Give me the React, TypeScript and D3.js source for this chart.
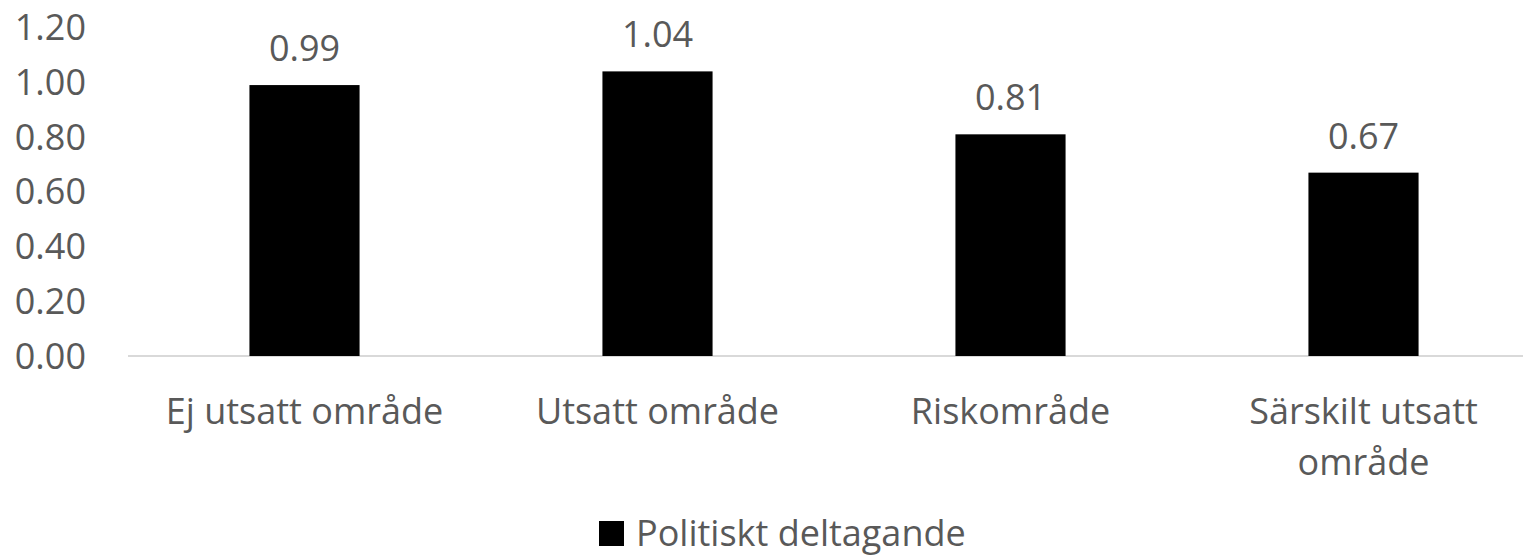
import * as d3 from 'd3'
import { useEffect, useRef } from 'react'

const categories = ['Ej utsatt område', 'Utsatt område', 'Riskområde', 'Särskilt utsatt område']
const categoryLines = [['Ej utsatt område'], ['Utsatt område'], ['Riskområde'], ['Särskilt utsatt', 'område']]
const values = [0.99, 1.04, 0.81, 0.67]
const yTicks = [0, 0.2, 0.4, 0.6, 0.8, 1.0, 1.2]
const seriesName = 'Politiskt deltagande'

export default function App() {
    const svgRef = useRef<SVGSVGElement>(null)

    useEffect(() => {
        makeChart(svgRef)
    }, [])

    function makeChart(svgRef: React.RefObject<SVGSVGElement>) {
        const width = 1523
        const height = 558
        const font = '"Open Sans", sans-serif'
        const textColor = '#595959'

        const svg = d3.select(svgRef.current).attr('width', width).attr('height', height)
        svg.selectAll('*').remove()

        const xScale = d3.scaleBand().domain(categories).range([128, 1540]).padding(0)
        const yScale = d3.scaleLinear().domain([0, 1.2]).range([356, 27.6])
        const barWidth = xScale.bandwidth() * 0.312

        // baseline
        svg.append('line')
            .attr('x1', 128).attr('x2', width)
            .attr('y1', yScale(0)).attr('y2', yScale(0))
            .attr('stroke', '#d9d9d9').attr('stroke-width', 2)

        // y tick labels
        svg.append('g').selectAll('text')
            .data(yTicks)
            .enter()
            .append('text')
            .attr('x', 86)
            .attr('y', d => yScale(d))
            .attr('dy', '0.35em')
            .attr('text-anchor', 'end')
            .attr('font-family', font)
            .attr('font-size', 36)
            .attr('fill', textColor)
            .text(d => d3.format('.2f')(d))

        // bars
        svg.append('g').selectAll('rect')
            .data(values)
            .enter()
            .append('rect')
            .attr('x', (_, i) => xScale(categories[i])! + xScale.bandwidth() / 2 - barWidth / 2)
            .attr('y', d => yScale(d))
            .attr('width', barWidth)
            .attr('height', d => yScale(0) - yScale(d))
            .attr('fill', '#000')

        // data labels
        svg.append('g').selectAll('text')
            .data(values)
            .enter()
            .append('text')
            .attr('x', (_, i) => xScale(categories[i])! + xScale.bandwidth() / 2)
            .attr('y', d => yScale(d) - 24)
            .attr('text-anchor', 'middle')
            .attr('font-family', font)
            .attr('font-size', 36)
            .attr('fill', textColor)
            .text(d => d3.format('.2f')(d))

        // category labels
        const catG = svg.append('g')
        categories.forEach((c, i) => {
            const t = catG.append('text')
                .attr('x', xScale(c)! + xScale.bandwidth() / 2)
                .attr('y', 424)
                .attr('text-anchor', 'middle')
                .attr('font-family', font)
                .attr('font-size', 36)
                .attr('fill', textColor)
            categoryLines[i].forEach((line, j) => {
                t.append('tspan')
                    .attr('x', xScale(c)! + xScale.bandwidth() / 2)
                    .attr('dy', j === 0 ? 0 : 51)
                    .text(line)
            })
        })

        // legend
        const legend = svg.append('g')
        legend.append('rect')
            .attr('x', 599).attr('y', 521)
            .attr('width', 25).attr('height', 25)
            .attr('fill', '#000')
        legend.append('text')
            .attr('x', 636).attr('y', 546)
            .attr('font-family', font)
            .attr('font-size', 36)
            .attr('fill', textColor)
            .text(seriesName)
    }

    return (
        <svg ref={svgRef} style={{ position: 'absolute', left: 0, top: 0 }}></svg>
    )
}
